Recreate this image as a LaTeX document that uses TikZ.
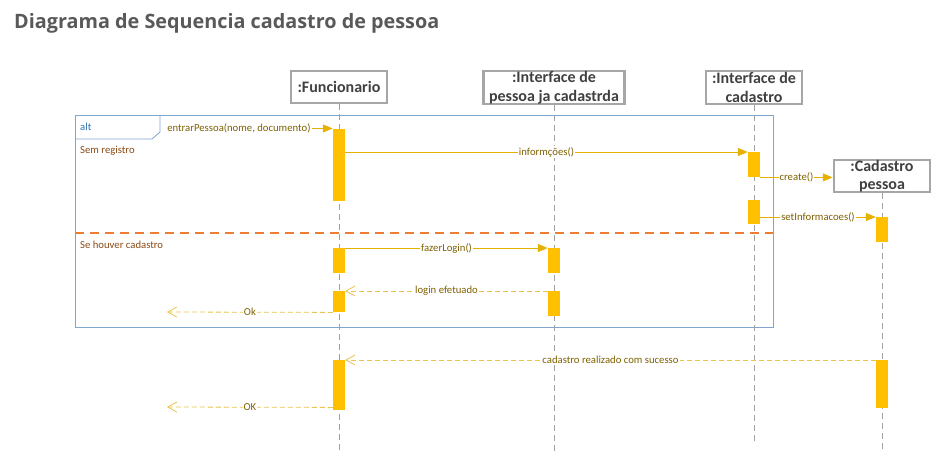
\documentclass[tikz,border=0pt]{standalone}
\usepackage{fontspec}
\setmainfont{Carlito}
\newfontfamily\titlefont{Open Sans}
\usetikzlibrary{arrows.meta}
\definecolor{titlegray}{HTML}{595959}
\definecolor{hdrtext}{HTML}{404040}
\definecolor{hdrborder}{HTML}{A6A6A6}
\definecolor{actfill}{HTML}{FFC000}
\definecolor{msgline}{HTML}{E8B000}
\definecolor{msgtext}{HTML}{7F6000}
\definecolor{retline}{HTML}{E9C44E}
\definecolor{framecol}{HTML}{7EA6CF}
\definecolor{alttext}{HTML}{2E75B6}
\definecolor{guardtext}{HTML}{8C4A14}
\definecolor{sepcol}{HTML}{ED7D31}
\definecolor{lifecol}{HTML}{A0A0A0}
\begin{document}
\begin{tikzpicture}[x=1pt,y=-1pt,
 header/.style={draw=hdrborder, line width=2.5pt, fill=white, text=hdrtext,
   font=\fontsize{16}{18.5}\selectfont\bfseries, align=center, inner sep=0pt},
 act/.style={fill=actfill, draw=none, minimum width=12pt, inner sep=0pt, anchor=north},
 lifeline/.style={draw=lifecol, line width=0.8pt, dash pattern=on 6pt off 4pt},
 msg/.style={draw=msgline, line width=1pt, -{Triangle[length=10pt,width=8pt]}},
 ret/.style={draw=retline, line width=0.8pt, dash pattern=on 5pt off 3pt,
   -{Straight Barb[length=9pt,width=10pt,line width=0.8pt]}},
 lbl/.style={fill=white, text=msgtext, font=\fontsize{10.7}{12}\selectfont, inner sep=1pt},
 guard/.style={text=guardtext, font=\fontsize{10.7}{12}\selectfont, anchor=west, inner sep=0pt}
]
\useasboundingbox[fill=white] (0,0) rectangle (932,456);

% title
\node[anchor=base west, text=titlegray, font=\titlefont\fontsize{19.8}{24}\selectfont\bfseries, inner sep=0pt]
  (title) at (14,28) {Diagrama de Sequencia cadastro de pessoa};

% alt frame
\draw[framecol, line width=0.8pt] (75,115) rectangle (773,327);
\draw[framecol, line width=0.8pt] (75,139) -- (152,139) -- (160,132) -- (160,115);
\node[anchor=west, text=alttext, font=\fontsize{10.7}{12}\selectfont, inner sep=0pt] (alt) at (80,127) {alt};
\node[guard] (g1txt) at (80,151) {Sem registro};
\node[guard] (g2txt) at (80,245) {Se houver cadastro};
\draw[sepcol, line width=1.5pt, dash pattern=on 9pt off 6pt] (75,233) -- (773,233);

% headers
\node[header, minimum width=96pt, minimum height=32pt] (hF) at (339,87) {:Funcionario};
\node[header, minimum width=141pt, minimum height=33pt] (hP) at (554,87.5) {:Interface de\\pessoa ja cadastrda};
\node[header, minimum width=96pt, minimum height=33pt] (hC) at (754,87.5) {:Interface de\\cadastro};

% lifelines
\coordinate (eF) at (339,452);
\coordinate (eP) at (554,452);
\coordinate (eC) at (754,445);
\coordinate (eCP) at (882,453);
\draw[lifeline] (hF.south) -- (eF);
\draw[lifeline] (hP.south) -- (eP);
\draw[lifeline] (hC.south) -- (eC);
\node[header, minimum width=96pt, minimum height=32pt] (hCP) at (882,176) {:Cadastro\\pessoa};
\draw[lifeline] (hCP.south) -- (eCP);

% activations
\node[act, minimum height=72pt] (F1) at (339,128.5) {};
\node[act, minimum height=25pt] (C1) at (754,152) {};
\node[act, minimum height=24pt] (C2) at (754,200) {};
\node[act, minimum height=25pt] (CP1) at (882,217) {};
\node[act, minimum height=25pt] (F2) at (339,248) {};
\node[act, minimum height=25pt] (P1) at (554,248) {};
\node[act, minimum height=21pt] (F3) at (339,291) {};
\node[act, minimum height=25pt] (P2) at (554,291) {};
\node[act, minimum height=48pt] (CP2) at (882,360) {};
\node[act, minimum height=50pt] (F4) at (339,360) {};

% messages
\coordinate (gate) at (166,128.5);
\coordinate (ok1) at (167,312);
\coordinate (ok2) at (167,407);
\draw[msg] (gate) -- (F1.north west) node[lbl, pos=0.437] {entrarPessoa(nome, documento)};
\draw[msg] (F1.east |- C1.north) -- (C1.north west) node[lbl, midway] {informções()};
\draw[msg] (C1.south east) -- (C1.south east -| hCP.west) node[lbl, midway] {create()};
\draw[msg] (C2.east |- CP1.north) -- (CP1.north west) node[lbl, midway] {setInformacoes()};
\draw[msg] (F2.north east) -- (P1.north west) node[lbl, midway] {fazerLogin()};
\draw[ret] (P2.north west) -- (F3.north east) node[lbl, midway] {login efetuado};
\draw[ret] (F3.south west) -- (ok1) node[lbl, midway] {Ok};
\draw[ret] (CP2.north west) -- (F4.north east) node[lbl, midway] {cadastro realizado com sucesso};
\draw[ret] ([yshift=3pt]F4.south west) -- (ok2) node[lbl, midway] {OK};
\end{tikzpicture}
\end{document}
